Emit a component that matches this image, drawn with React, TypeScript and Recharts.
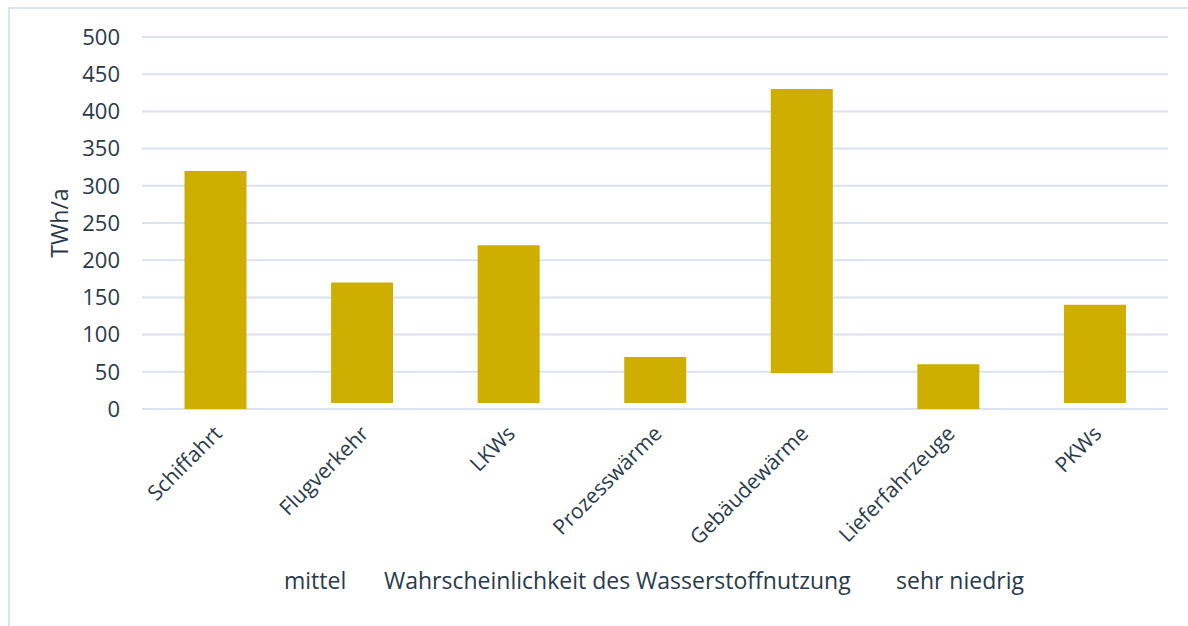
import React from 'react';
import { BarChart, Bar, XAxis, YAxis, CartesianGrid } from 'recharts';

const categories = ['Schiffahrt', 'Flugverkehr', 'LKWs', 'Prozesswärme', 'Gebäudewärme', 'Lieferfahrzeuge', 'PKWs'];
const lowValues = [0, 8, 8, 8, 48, 0, 8];
const highValues = [320, 170, 220, 70, 430, 60, 140];
const yTicks = [0, 50, 100, 150, 200, 250, 300, 350, 400, 450, 500];

const data = categories.map((name, i) => ({ name, range: [lowValues[i], highValues[i]] }));

const FONT = '"Open Sans", sans-serif';
const TEXT = '#293a4b';

const CategoryTick = (props: any) => {
  const { x, y, payload } = props;
  return (
    <g transform={`translate(${x + 8},${y + 18})`}>
      <text textAnchor="end" transform="rotate(-45)" fill={TEXT} fontSize={21} fontFamily={FONT}>
        {payload.value}
      </text>
    </g>
  );
};

export default function App() {
  return (
    <div style={{ position: 'fixed', left: 0, top: 0, width: 1188, height: 626, overflow: 'hidden', background: '#fff' }}>
      <div
        style={{
          position: 'absolute',
          left: 8,
          top: 7,
          width: 1200,
          height: 640,
          borderLeft: '2px solid #dce4ee',
          borderTop: '2px solid #dce4ee',
          fontFamily: FONT,
        }}
      >
        <BarChart
          width={1180}
          height={620}
          data={data}
          margin={{ top: 28, right: 22, left: 0, bottom: 0 }}
          barCategoryGap="29%"
        >
          <CartesianGrid vertical={false} stroke="#d9e2ee" strokeWidth={2} />
          <XAxis
            dataKey="name"
            interval={0}
            height={220}
            axisLine={false}
            tickLine={false}
            tick={<CategoryTick />}
          />
          <YAxis
            width={132}
            domain={[0, 500]}
            ticks={yTicks}
            axisLine={false}
            tickLine={false}
            tickMargin={16}
            tick={{ fill: TEXT, fontSize: 22, fontFamily: FONT }}
            label={{
              value: 'TWh/a',
              angle: -90,
              position: 'insideLeft',
              offset: 50,
              style: { fill: TEXT, fontSize: 23, fontFamily: FONT, textAnchor: 'middle' },
            }}
          />
          <Bar dataKey="range" fill="#ceae00" isAnimationActive={false} />
        </BarChart>
        <div style={{ position: 'absolute', top: 555, left: 0, width: 1180, color: TEXT, fontSize: 23, whiteSpace: 'nowrap' }}>
          <span style={{ position: 'absolute', left: 274 }}>mittel</span>
          <span style={{ position: 'absolute', left: 374 }}>Wahrscheinlichkeit des Wasserstoffnutzung</span>
          <span style={{ position: 'absolute', left: 886 }}>sehr niedrig</span>
        </div>
      </div>
    </div>
  );
}
